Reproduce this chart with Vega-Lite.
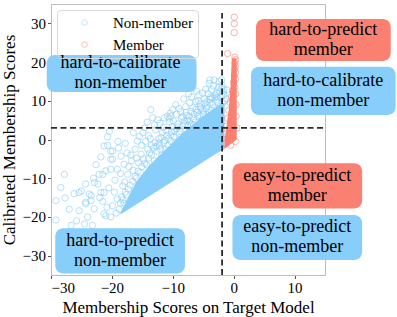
{
  "$schema": "https://vega.github.io/schema/vega-lite/v6.json",
  "width": 274,
  "height": 271,
  "autosize": {"type": "none"},
  "padding": {"left": 51, "top": 4, "right": 72, "bottom": 42},
  "background": "white",
  "config": {
    "font": "Liberation Serif, DejaVu Serif, serif",
    "view": {"stroke": "#bdbdbd", "strokeWidth": 1},
    "axis": {
      "labelFont": "Liberation Serif, DejaVu Serif, serif", "labelFontSize": 15, "labelColor": "#000",
      "titleFont": "Liberation Serif, DejaVu Serif, serif", "titleFontSize": 17, "titleFontWeight": "normal", "titleColor": "#000",
      "grid": false, "domainColor": "#bdbdbd", "tickColor": "#555", "tickSize": 3.5, "labelPadding": 2
    }
  },
  "datasets": {
    "blue": [
      {"x":-29.2,"y":-20.8},{"x":-29.2,"y":-15.8},{"x":-27.8,"y":-9},{"x":-28.4,"y":-12.4},{"x":-27.7,"y":-15.1},{"x":-26.7,"y":-22.2},{"x":-25.4,"y":-18.4},{"x":-25.4,"y":-13.7},{"x":-25.0,"y":-13.3},{"x":-26.2,"y":-14.0},{"x":-27.0,"y":-18.0},{"x":-25.8,"y":-21.0},
      {"x":-24.3,"y":-11.5},{"x":-23.7,"y":-14.1},{"x":-23.4,"y":-15.8},{"x":-24.3,"y":-16.6},{"x":-22.9,"y":-17.9},{"x":-24.0,"y":-20.0},{"x":-23.2,"y":-22.2},{"x":-22.1,"y":-9.0},{"x":-22.3,"y":-11.5},{"x":-21.8,"y":-13.7},{"x":-24.5,"y":-21.8},{"x":-21.0,"y":-19.7},{"x":-20.2,"y":-20.0},{"x":-22.9,"y":-11.1},{"x":-21.5,"y":-9.0},{"x":-23.4,"y":-14.5},{"x":-24.3,"y":-16.2},{"x":-21.3,"y":-19.2},{"x":-21.3,"y":-13.7},{"x":-20.2,"y":-7.7},{"x":-20.7,"y":0.7},{"x":-20.7,"y":-1.5},{"x":-20.2,"y":-3.0},{"x":-21.3,"y":-1.7},{"x":-20.2,"y":-5.1},{"x":-21.0,"y":-8.1},{"x":-22.6,"y":-6.5},{"x":-23.0,"y":-10.0},{"x":-21.5,"y":-16.0},{"x":-20.5,"y":-12.5},{"x":-22.0,"y":-15.0},{"x":-20.8,"y":-17.5},{"x":-21.8,"y":-4.5},{"x":-20.4,"y":2.1},
      {"x":-19.9,"y":-3.0},{"x":-19.1,"y":-7.7},{"x":-18.5,"y":-4.3},{"x":-17.4,"y":-9.0},{"x":-19.9,"y":-17.1},{"x":-19.1,"y":-15.4},{"x":-19.6,"y":-13.6},{"x":-18.2,"y":-12.0},{"x":-19.9,"y":-5.1},{"x":-18.0,"y":-6.4},{"x":-17.5,"y":-3.5},{"x":-15.8,"y":-0.4},{"x":-15.5,"y":0.8},{"x":-19.5,"y":-10.5},{"x":-18.8,"y":-18.0},{"x":-18.0,"y":-16.5},{"x":-17.6,"y":-14.2},{"x":-17.0,"y":-11.8},{"x":-16.5,"y":-8.0},{"x":-16.8,"y":-5.5},{"x":-16.2,"y":-2.5},{"x":-15.6,"y":-6.0},{"x":-15.2,"y":-3.8},{"x":-17.8,"y":-1.0},{"x":-19.0,"y":-0.5},{"x":-16.5,"y":1.8},{"x":-18.6,"y":-8.8},{"x":-17.2,"y":-7.0},{"x":-16.0,"y":-10.0},{"x":-15.3,"y":-8.5},{"x":-19.3,"y":-19.0},{"x":-18.4,"y":-14.8},{"x":-17.0,"y":-16.5},{"x":-16.4,"y":-13.5},{"x":-15.6,"y":-12.0},{"x":-15.1,"y":-1.5},{"x":-18.9,"y":-2.2},{"x":-17.9,"y":-11.0},{"x":-16.9,"y":-4.0},{"x":-15.9,"y":-4.8},
      {"x":-13.6,"y":7.7},{"x":-12.5,"y":5.1},{"x":-10.9,"y":6.0},{"x":-10.0,"y":7.7},{"x":-13.3,"y":5.6},{"x":-11.4,"y":5.6},{"x":-14.6,"y":3.0},{"x":-14.0,"y":1.0},{"x":-13.5,"y":-1.5},{"x":-14.8,"y":-5.0},{"x":-14.3,"y":-6.5},{"x":-13.8,"y":-3.5},{"x":-13.0,"y":-5.5},{"x":-12.8,"y":2.5},{"x":-12.3,"y":0.2},{"x":-12.0,"y":-2.5},{"x":-11.8,"y":-4.0},{"x":-11.5,"y":3.2},{"x":-11.0,"y":1.0},{"x":-10.8,"y":-1.5},{"x":-10.5,"y":4.5},{"x":-10.2,"y":2.0},{"x":-14.5,"y":-0.5},{"x":-13.2,"y":-7.0},{"x":-12.6,"y":-3.0},{"x":-11.2,"y":-2.5},{"x":-10.3,"y":-0.5},{"x":-14.2,"y":4.5},{"x":-13.0,"y":3.8},{"x":-12.1,"y":4.2},{"x":-11.7,"y":1.8},{"x":-10.6,"y":5.5},{"x":-14.9,"y":1.8},{"x":-13.7,"y":0.2},{"x":-12.9,"y":-0.8},{"x":-12.2,"y":-1.5},{"x":-11.3,"y":-0.2},{"x":-10.1,"y":3.3},{"x":-14.1,"y":-2.5},{"x":-10.4,"y":6.8},
      {"x":-10.3,"y":6.0},{"x":-9.5,"y":9.0},{"x":-9.0,"y":8.0},{"x":-8.6,"y":5.5},{"x":-8.2,"y":10.5},{"x":-7.8,"y":7.0},{"x":-7.5,"y":3.5},{"x":-7.2,"y":9.5},{"x":-6.8,"y":13.3},{"x":-6.5,"y":6.5},{"x":-6.2,"y":9.8},{"x":-5.7,"y":11.5},{"x":-5.4,"y":8.0},{"x":-5.2,"y":5.0},{"x":-9.8,"y":2.0},{"x":-9.2,"y":4.0},{"x":-8.8,"y":0.5},{"x":-8.0,"y":2.5},{"x":-7.6,"y":5.0},{"x":-7.0,"y":4.0},{"x":-6.6,"y":3.8},{"x":-6.0,"y":7.0},{"x":-5.6,"y":6.2},{"x":-9.6,"y":-0.8},{"x":-9.0,"y":1.5},{"x":-8.4,"y":3.5},{"x":-7.9,"y":8.5},{"x":-7.3,"y":6.0},{"x":-6.9,"y":11.0},{"x":-6.3,"y":4.5},{"x":-5.8,"y":10.0},{"x":-5.1,"y":12.0},{"x":-9.4,"y":6.5},{"x":-8.7,"y":7.2},{"x":-8.1,"y":4.8},{"x":-7.4,"y":11.8},{"x":-6.7,"y":8.2},{"x":-6.1,"y":12.5},{"x":-5.5,"y":9.2},{"x":-5.0,"y":6.5},{"x":-9.9,"y":4.8},{"x":-8.3,"y":-0.2},{"x":-7.1,"y":2.0},
      {"x":-4.0,"y":14.5},{"x":-3.2,"y":15.4},{"x":-2.4,"y":15.0},{"x":-3.6,"y":12.9},{"x":-4.8,"y":10.5},{"x":-4.5,"y":8.0},{"x":-4.2,"y":11.8},{"x":-3.9,"y":9.5},{"x":-3.5,"y":10.8},{"x":-3.1,"y":8.2},{"x":-2.8,"y":12.0},{"x":-2.6,"y":9.6},{"x":-2.2,"y":11.0},{"x":-2.0,"y":13.2},{"x":-1.8,"y":9.5},{"x":-1.6,"y":11.5},{"x":-4.6,"y":13.0},{"x":-4.1,"y":7.0},{"x":-3.3,"y":13.8},{"x":-2.9,"y":10.2},{"x":-2.5,"y":13.5},{"x":-1.9,"y":14.0},{"x":-1.7,"y":12.3},{"x":-4.4,"y":9.8},{"x":-3.7,"y":7.5},{"x":-3.0,"y":11.5},{"x":-2.3,"y":8.5},{"x":-1.5,"y":10.0},{"x":-4.9,"y":7.2},{"x":-3.8,"y":11.0},{"x":-1.1,"y":12.8},{"x":-1.2,"y":10.5},{"x":-3.9,"y":15.4},{"x":-2.0,"y":15.4},
      {"x":-16.2,"y":-9.5},{"x":-15.7,"y":-8.2},{"x":-15.1,"y":-7.0},{"x":-14.6,"y":-6.2},{"x":-14.0,"y":-4.8},{"x":-13.5,"y":-4.0},{"x":-13.1,"y":-2.2},{"x":-12.7,"y":-1.8},{"x":-12.3,"y":-0.9},{"x":-11.9,"y":0.5},{"x":-11.5,"y":-0.8},{"x":-11.1,"y":2.4},{"x":-10.7,"y":0.3},{"x":-10.3,"y":1.2},{"x":-16.6,"y":-10.8},{"x":-17.3,"y":-12.8},{"x":-17.8,"y":-13.6},{"x":-18.2,"y":-15.6},{"x":-18.6,"y":-16.4},
      {"x":-9.8,"y":0.8},{"x":-9.4,"y":2.8},{"x":-9.1,"y":3.3},{"x":-8.7,"y":2.2},{"x":-8.4,"y":5.9},{"x":-8.0,"y":4.0},{"x":-7.7,"y":6.2},{"x":-7.3,"y":4.8},{"x":-7.0,"y":7.2},{"x":-6.6,"y":5.4},{"x":-6.2,"y":7.8},{"x":-5.9,"y":6.0},{"x":-5.5,"y":8.4},{"x":-5.1,"y":7.6},{"x":-4.7,"y":9.3},{"x":-4.3,"y":8.8},{"x":-3.9,"y":10.4},{"x":-3.5,"y":9.0},{"x":-3.1,"y":11.0},{"x":-2.7,"y":10.8},{"x":-2.3,"y":12.4},{"x":-1.9,"y":11.2},{"x":-1.6,"y":13.0}
    ],
    "red": [
      {"x":0.1,"y":31.6},{"x":0.1,"y":29.9},{"x":0.1,"y":27.6},{"x":-1.0,"y":22.2},{"x":0.2,"y":21.3},{"x":0.3,"y":20.6},{"x":0.2,"y":19.8},{"x":0.3,"y":19.0},{"x":0.2,"y":18.2},{"x":0.3,"y":17.3},{"x":0.1,"y":16.5},{"x":0.3,"y":15.6},{"x":0.0,"y":14.8},{"x":0.2,"y":13.5},{"x":-0.2,"y":12.5},{"x":-0.4,"y":11.0},{"x":0.3,"y":11.8},{"x":-0.6,"y":9.5},{"x":-0.8,"y":7.5},{"x":-1.0,"y":5.5},{"x":-1.2,"y":3.5},{"x":-1.4,"y":1.5},{"x":0.4,"y":9.0},{"x":0.4,"y":6.0},{"x":0.5,"y":3.0},{"x":-1.5,"y":-1.0},{"x":-0.5,"y":-1.5},{"x":0.3,"y":-0.5}
    ],
    "core": [
      {"x":-18.6,"lo":-19.4,"hi":-19.0},{"x":-17.5,"lo":-18.3,"hi":-15.5},{"x":-16,"lo":-16.8,"hi":-11.0},{"x":-14,"lo":-14.8,"hi":-7},{"x":-12,"lo":-12.8,"hi":-3.8},{"x":-10,"lo":-10.8,"hi":-0.8},{"x":-8,"lo":-8.8,"hi":2.2},{"x":-6,"lo":-6.8,"hi":4.8},{"x":-4,"lo":-4.8,"hi":7.2},{"x":-2.5,"lo":-3.3,"hi":8.8},{"x":-1.5,"lo":-2.5,"hi":9.5}
    ],
    "redcore": [
      {"y":-2.3,"xl":-1.5,"xr":-1.4},{"y":0,"xl":-1.5,"xr":0.5},{"y":3,"xl":-1.2,"xr":0.5},{"y":8,"xl":-0.8,"xr":0.5},{"y":14,"xl":-0.5,"xr":0.5},{"y":19,"xl":-0.35,"xr":0.5},{"y":21,"xl":-0.3,"xr":0.45}
    ],
    "vline": [{"x":-1.9,"y":-35,"y2":32.7}],
    "hline": [{"x":-30,"x2":14.7,"y":3}],
    "boxes": [
      {"x1":-30.7,"x2":-6.1,"y1":12.3,"y2":21.8,"cx":-18.6,"cy":17.1,"label":"hard-to-calibrate\nnon-member","kind":"non-member"},
      {"x1":3.67,"x2":25.8,"y1":20.3,"y2":31.1,"cx":14.7,"cy":25.7,"label":"hard-to-predict\nmember","kind":"member"},
      {"x1":2.85,"x2":26.6,"y1":6.3,"y2":18.8,"cx":14.7,"cy":12.55,"label":"hard-to-calibrate\nnon-member","kind":"non-member"},
      {"x1":-0.2,"x2":21.1,"y1":-17.8,"y2":-6.15,"cx":10.45,"cy":-12,"label":"easy-to-predict\nmember","kind":"member"},
      {"x1":-0.2,"x2":21.1,"y1":-31.1,"y2":-19.5,"cx":10.45,"cy":-25.3,"label":"easy-to-predict\nnon-member","kind":"non-member"},
      {"x1":-29.3,"x2":-8.0,"y1":-34.6,"y2":-22.9,"cx":-18.65,"cy":-28.75,"label":"hard-to-predict\nnon-member","kind":"non-member"}
    ]
  },
  "layer": [
    {
      "data": {"name": "core"},
      "mark": {"type": "area", "color": "#87CEFA", "opacity": 1},
      "encoding": {
        "x": {"field": "x", "type": "quantitative", "scale": {"domain": [-30, 15], "nice": false, "zero": false}, "title": "Membership Scores on Target Model", "axis": {"values": [-30, -20, -10, 0, 10]}},
        "y": {"field": "lo", "type": "quantitative", "scale": {"domain": [-35, 35], "nice": false, "zero": false}, "title": "Calibrated Membership Scores", "axis": {"values": [-30, -20, -10, 0, 10, 20, 30]}},
        "y2": {"field": "hi"}
      }
    },
    {
      "data": {"name": "blue"},
      "mark": {"type": "point", "shape": "circle", "filled": false, "size": 40, "strokeWidth": 1, "opacity": 0.6},
      "encoding": {
        "x": {"field": "x", "type": "quantitative", "scale": {"domain": [-30, 15], "nice": false, "zero": false}, "title": "Membership Scores on Target Model"},
        "y": {"field": "y", "type": "quantitative", "scale": {"domain": [-35, 35], "nice": false, "zero": false}, "title": "Calibrated Membership Scores"},
        "color": {"datum": "Non-member", "scale": {"domain": ["Non-member", "Member"], "range": ["#87CEFA", "#FA8072"]},
          "legend": {"title": null, "orient": "none", "legendX": 6, "legendY": 6, "zindex": 0, "padding": 5, "rowPadding": 6, "symbolOffset": 15, "labelOffset": 21, "strokeColor": "#d8d8d8", "cornerRadius": 4, "symbolType": "circle", "symbolSize": 32, "symbolStrokeWidth": 1, "symbolOpacity": 0.5, "labelFont": "Liberation Serif, DejaVu Serif, serif", "labelFontSize": 15, "labelColor": "#000"}}
      }
    },
    {
      "data": {"name": "redcore"},
      "mark": {"type": "area", "orient": "horizontal", "color": "#FA8072", "opacity": 1},
      "encoding": {
        "y": {"field": "y", "type": "quantitative", "scale": {"domain": [-35, 35], "nice": false, "zero": false}, "title": "Calibrated Membership Scores"},
        "x": {"field": "xl", "type": "quantitative", "scale": {"domain": [-30, 15], "nice": false, "zero": false}, "title": "Membership Scores on Target Model"},
        "x2": {"field": "xr"}
      }
    },
    {
      "data": {"name": "red"},
      "mark": {"type": "point", "shape": "circle", "filled": false, "size": 40, "strokeWidth": 1, "opacity": 0.6},
      "encoding": {
        "x": {"field": "x", "type": "quantitative", "scale": {"domain": [-30, 15], "nice": false, "zero": false}, "title": "Membership Scores on Target Model"},
        "y": {"field": "y", "type": "quantitative", "scale": {"domain": [-35, 35], "nice": false, "zero": false}, "title": "Calibrated Membership Scores"},
        "color": {"datum": "Member"}
      }
    },
    {
      "data": {"name": "vline"},
      "mark": {"type": "rule", "color": "#2b2b2b", "strokeWidth": 1.8, "strokeDash": [6, 3.5]},
      "encoding": {
        "x": {"field": "x", "type": "quantitative", "title": "Membership Scores on Target Model"},
        "y": {"field": "y", "type": "quantitative", "title": "Calibrated Membership Scores"},
        "y2": {"field": "y2"}
      }
    },
    {
      "data": {"name": "hline"},
      "mark": {"type": "rule", "color": "#2b2b2b", "strokeWidth": 1.8, "strokeDash": [6, 3.5]},
      "encoding": {
        "x": {"field": "x", "type": "quantitative", "title": "Membership Scores on Target Model"},
        "x2": {"field": "x2"},
        "y": {"field": "y", "type": "quantitative", "title": "Calibrated Membership Scores"}
      }
    },
    {
      "data": {"name": "boxes"},
      "transform": [{"filter": "datum.kind === 'non-member'"}],
      "mark": {"type": "rect", "color": "#87CEFA", "cornerRadius": 8},
      "encoding": {
        "x": {"field": "x1", "type": "quantitative", "title": "Membership Scores on Target Model"},
        "x2": {"field": "x2"},
        "y": {"field": "y1", "type": "quantitative", "title": "Calibrated Membership Scores"},
        "y2": {"field": "y2"}
      }
    },
    {
      "data": {"name": "boxes"},
      "transform": [{"filter": "datum.kind === 'member'"}],
      "mark": {"type": "rect", "color": "#FA8072", "cornerRadius": 8},
      "encoding": {
        "x": {"field": "x1", "type": "quantitative", "title": "Membership Scores on Target Model"},
        "x2": {"field": "x2"},
        "y": {"field": "y1", "type": "quantitative", "title": "Calibrated Membership Scores"},
        "y2": {"field": "y2"}
      }
    },
    {
      "data": {"name": "boxes"},
      "mark": {"type": "text", "font": "Liberation Serif, DejaVu Serif, serif", "fontSize": 18, "lineHeight": 20, "lineBreak": "\n", "align": "center", "baseline": "middle", "dy": -10, "color": "#000"},
      "encoding": {
        "x": {"field": "cx", "type": "quantitative", "title": "Membership Scores on Target Model"},
        "y": {"field": "cy", "type": "quantitative", "title": "Calibrated Membership Scores"},
        "text": {"field": "label"}
      }
    }
  ]
}
